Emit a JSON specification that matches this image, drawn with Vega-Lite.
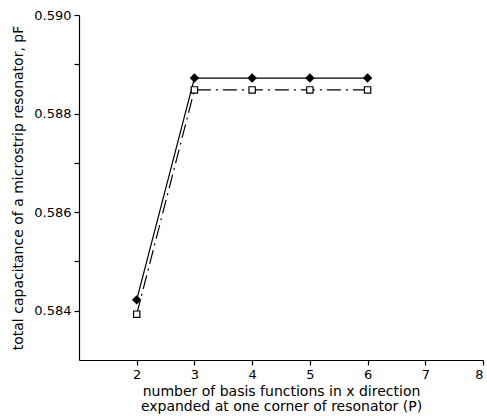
{
  "$schema": "https://vega.github.io/schema/vega-lite/v6.json",
  "width": 404,
  "height": 345,
  "autosize": {"type": "none"},
  "padding": {"left": 79, "top": 15, "right": 4, "bottom": 56},
  "background": "white",
  "config": {
    "view": {"stroke": null},
    "font": "DejaVu Sans",
    "axis": {"domainColor": "black", "tickColor": "black", "labelColor": "black", "titleColor": "black", "grid": false, "labelFont": "DejaVu Sans", "titleFont": "DejaVu Sans", "labelFontSize": 13, "titleFontSize": 14, "titleFontWeight": "normal", "domainWidth": 1.2, "tickWidth": 1.2}
  },
  "data": {
    "values": [
      {"P": 2, "C": 0.58422, "series": "A"},
      {"P": 3, "C": 0.58872, "series": "A"},
      {"P": 4, "C": 0.58872, "series": "A"},
      {"P": 5, "C": 0.58872, "series": "A"},
      {"P": 6, "C": 0.58872, "series": "A"},
      {"P": 2, "C": 0.58393, "series": "B"},
      {"P": 3, "C": 0.58848, "series": "B"},
      {"P": 4, "C": 0.58848, "series": "B"},
      {"P": 5, "C": 0.58848, "series": "B"},
      {"P": 6, "C": 0.58848, "series": "B"}
    ]
  },
  "encoding": {
    "x": {
      "field": "P", "type": "quantitative",
      "scale": {"domain": [1, 8], "nice": false, "zero": false},
      "axis": {"values": [2, 3, 4, 5, 6, 7, 8], "tickSize": 5, "labelPadding": 3, "title": ["number of basis functions in x direction", "expanded at one corner of resonator (P)"], "titlePadding": 3, "titleLineHeight": 15}
    },
    "y": {
      "field": "C", "type": "quantitative",
      "scale": {"domain": [0.583, 0.590], "nice": false, "zero": false},
      "axis": {"values": [0.584, 0.585, 0.586, 0.587, 0.588, 0.589, 0.590], "labelExpr": "(round(datum.value*1000) % 2 == 0) ? format(datum.value, '.3f') : ''", "tickSize": 5, "labelPadding": 3, "title": "total capacitance of a microstrip resonator, pF", "titlePadding": 8}
    }
  },
  "layer": [
    {
      "transform": [{"filter": "datum.series == 'A'"}],
      "mark": {"type": "line", "color": "black", "strokeWidth": 1.2}
    },
    {
      "transform": [{"filter": "datum.series == 'B'"}],
      "mark": {"type": "line", "color": "black", "strokeWidth": 1.2, "strokeDash": [14, 5, 2, 5]}
    },
    {
      "transform": [{"filter": "datum.series == 'A'"}],
      "mark": {"type": "point", "shape": "diamond", "filled": true, "color": "black", "size": 90, "opacity": 1}
    },
    {
      "transform": [{"filter": "datum.series == 'B'"}],
      "mark": {"type": "point", "shape": "square", "filled": true, "fill": "white", "stroke": "black", "strokeWidth": 1.2, "size": 40, "opacity": 1}
    }
  ]
}
